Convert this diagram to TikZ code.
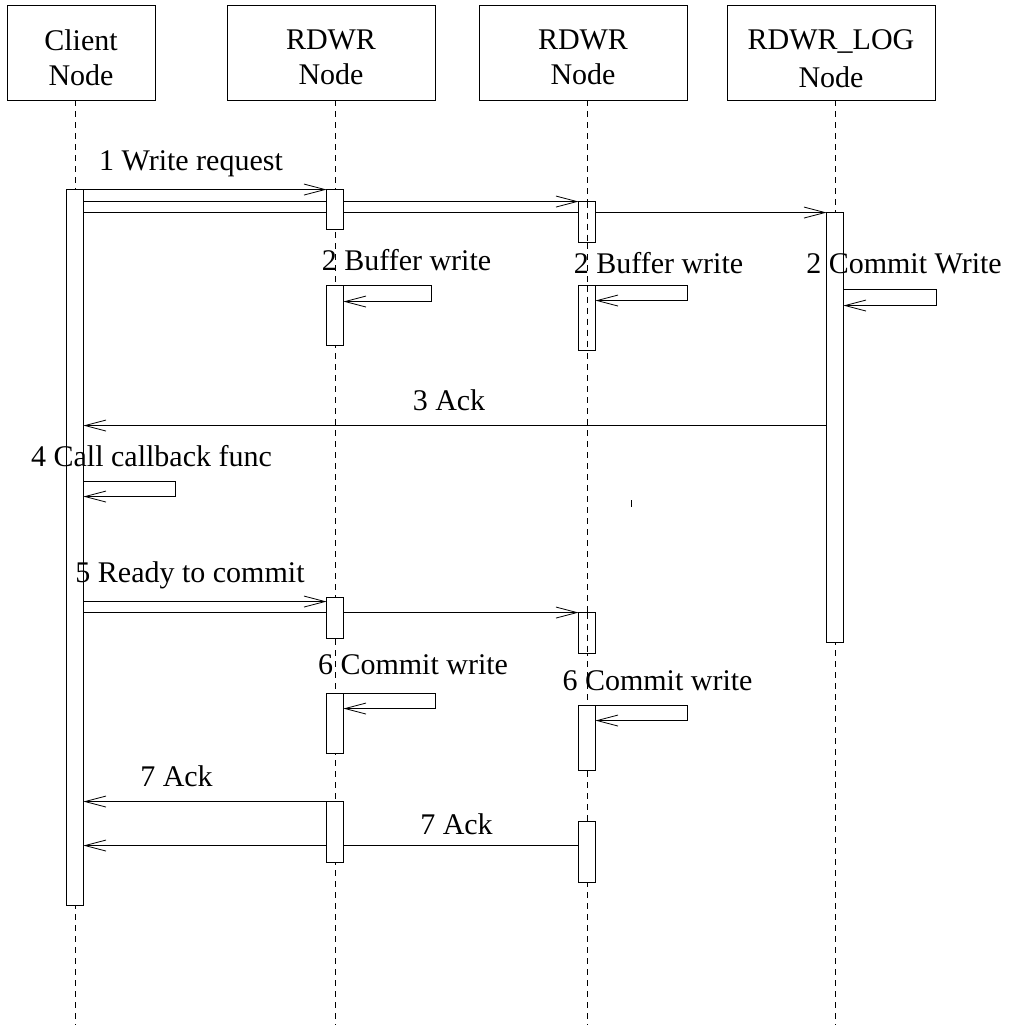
\documentclass[tikz,border=0pt]{standalone}
\usepackage{fontspec}
\setmainfont{Liberation Serif}
\usetikzlibrary{arrows.meta}
\begin{document}
\begin{tikzpicture}[x=1pt,y=-1pt,
  every node/.style={font=\fontsize{30}{35}\selectfont},
  head/.style={draw, line width=0.9pt, inner sep=0pt},
  headtxt/.style={align=center, inner sep=0pt},
  life/.style={line width=0.8pt, dash pattern=on 6pt off 5pt},
  act/.style={draw, fill=white, line width=0.9pt, minimum width=16pt, inner sep=0pt},
  msg/.style={line width=0.8pt, -{Straight Barb[length=21pt,width=11pt,line width=0.8pt]}},
  lbl/.style={anchor=base, inner sep=0pt}]
\useasboundingbox (0,0) rectangle (1013,1025);

% heads
\node[head, minimum width=148pt, minimum height=95pt] (hC) at (81,52.5) {};
\node[head, minimum width=208pt, minimum height=95pt] (h1) at (331,52.5) {};
\node[head, minimum width=208pt, minimum height=95pt] (h2) at (583,52.5) {};
\node[head, minimum width=208pt, minimum height=95pt] (hL) at (831,52.5) {};
\node[headtxt] (tC) at (81,57.5) {Client\\Node};
\node[headtxt] (t1) at (331,57.5) {RDWR\\Node};
\node[headtxt] (t2) at (583,57.5) {RDWR\\Node};
\node[headtxt] (tL) at (831,59) {RDWR\_LOG\\[3pt]Node};

% lifelines
\coordinate (eC) at (75,1025);
\coordinate (e1) at (335,1025);
\coordinate (e2) at (587,1025);
\coordinate (eL) at (835,1025);
\draw[life] (hC.south -| eC) -- (eC);
\draw[life] (h1.south -| e1) -- (e1);
\draw[life] (h2.south -| e2) -- (e2);
\draw[life] (hL.south -| eL) -- (eL);

% activation boxes (positions)
\path
  (75,547.5) node[act, minimum height=715pt] (cA) {}
  (335,209.5) node[act, minimum height=39pt] (r1a) {}
  (335,315.5) node[act, minimum height=59pt] (r1b) {}
  (335,618) node[act, minimum height=40pt] (r1c) {}
  (335,723.5) node[act, minimum height=59pt] (r1d) {}
  (335,832) node[act, minimum height=60pt] (r1e) {}
  (587,222) node[act, minimum height=40pt] (r2a) {}
  (587,318) node[act, minimum height=64pt] (r2b) {}
  (587,633) node[act, minimum height=40pt] (r2c) {}
  (587,738) node[act, minimum height=64pt] (r2d) {}
  (587,852) node[act, minimum height=60pt] (r2e) {}
  (835,427.5) node[act, minimum height=429pt] (lA) {};

% messages (drawn first, boxes go on top)
\begin{scope}[on background layer/.style={}]
\draw[msg] (cA.north east) -- (r1a.north west);
\draw[msg] ([yshift=-12pt]cA.north east) -- (r2a.north west);
\draw[msg] ([yshift=-23pt]cA.north east) -- (lA.north west);
\draw[msg] (r1b.north east) -- ++(88,0) -- ++(0,16) -- ([yshift=-16pt]r1b.north east);
\draw[msg] (r2b.north east) -- ++(92,0) -- ++(0,15) -- ([yshift=-15pt]r2b.north east);
\draw[msg] ([yshift=-77pt]lA.north east) -- ++(93,0) -- ++(0,16) -- ([yshift=-93pt]lA.north east);
\draw[msg] ([yshift=-213pt]lA.north west) -- ([yshift=-236pt]cA.north east);
\draw[msg] ([yshift=-292pt]cA.north east) -- ++(92,0) -- ++(0,15) -- ([yshift=-307pt]cA.north east);
\draw[msg] ([yshift=-412pt]cA.north east) -- ([yshift=-4pt]r1c.north west);
\draw[msg] ([yshift=-423pt]cA.north east) -- (r2c.north west);
\draw[msg] (r1d.north east) -- ++(92,0) -- ++(0,15) -- ([yshift=-15pt]r1d.north east);
\draw[msg] (r2d.north east) -- ++(92,0) -- ++(0,15) -- ([yshift=-15pt]r2d.north east);
\draw[msg] (r1e.north west) -- ([yshift=-612pt]cA.north east);
\draw[msg] ([yshift=-24pt]r2e.north west) -- ([yshift=-656pt]cA.north east);
\end{scope}

% redraw activation boxes on top
\foreach \n in {cA,r1a,r1b,r1c,r1d,r1e,r2a,r2b,r2c,r2d,r2e,lA}
  \draw[line width=0.9pt, fill=white] (\n.north west) rectangle (\n.south east);

% lifeline visible inside some boxes
\draw[life] (r2a.north) -- (r2a.south);
\draw[life] (r2b.north) -- (r2b.south);
\draw[life] (r2c.north) -- (r2c.south);

% small mark
\draw[line width=1pt] (631,500) -- (631,507);

% labels
\node[lbl] (l1) at (191,170) {1 Write request};
\node[lbl] (l2a) at (406.5,270) {2 Buffer write};
\node[lbl] (l2b) at (658.5,273) {2 Buffer write};
\node[lbl] (l2c) at (904,273) {2 Commit Write};
\node[lbl] (l3) at (449,410) {3 Ack};
\node[lbl] (l4) at (151.5,466) {4 Call callback func};
\node[lbl] (l5) at (190,582) {5 Ready to commit};
\node[lbl] (l6a) at (413,674) {6 Commit write};
\node[lbl] (l6b) at (657.5,690) {6 Commit write};
\node[lbl] (l7a) at (176.5,786) {7 Ack};
\node[lbl] (l7b) at (456.5,834) {7 Ack};
\end{tikzpicture}
\end{document}
